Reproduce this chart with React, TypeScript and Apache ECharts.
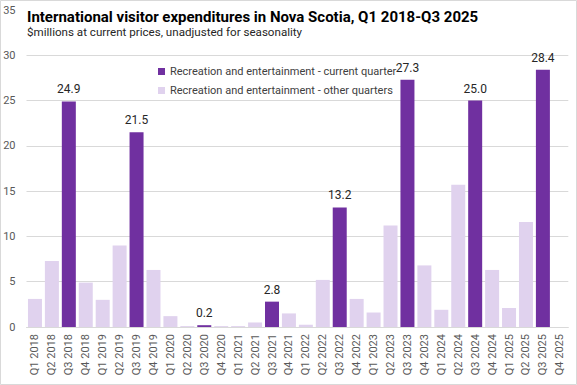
import React, { useEffect, useRef } from "react";
import * as echarts from "echarts";

const categories = [
  "Q1 2018","Q2 2018","Q3 2018","Q4 2018",
  "Q1 2019","Q2 2019","Q3 2019","Q4 2019",
  "Q1 2020","Q2 2020","Q3 2020","Q4 2020",
  "Q1 2021","Q2 2021","Q3 2021","Q4 2021",
  "Q1 2022","Q2 2022","Q3 2022","Q4 2022",
  "Q1 2023","Q2 2023","Q3 2023","Q4 2023",
  "Q1 2024","Q2 2024","Q3 2024","Q4 2024",
  "Q1 2025","Q2 2025","Q3 2025","Q4 2025",
];

const currentQuarter: (number | null)[] = [
  null, null, 24.9, null,
  null, null, 21.5, null,
  null, null, 0.2, null,
  null, null, 2.8, null,
  null, null, 13.2, null,
  null, null, 27.3, null,
  null, null, 25.0, null,
  null, null, 28.4, null,
];

const otherQuarters: (number | null)[] = [
  3.1, 7.3, null, 4.9,
  3.0, 9.0, null, 6.3,
  1.2, 0.1, null, 0.1,
  0.1, 0.5, null, 1.5,
  0.25, 5.2, null, 3.1,
  1.6, 11.2, null, 6.8,
  1.9, 15.7, null, 6.3,
  2.1, 11.6, null, null,
];

const seriesNames = [
  "Recreation and entertainment - current quarter",
  "Recreation and entertainment - other quarters",
];

const titleText = "International visitor expenditures in Nova Scotia, Q1 2018-Q3 2025";
const subtitleText = "$millions at current prices, unadjusted for seasonality";

const FONT = "Roboto, 'Liberation Sans', sans-serif";

export default function App() {
  const ref = useRef<HTMLDivElement>(null);
  useEffect(() => {
    document.body.style.margin = "0";
    const chart = echarts.init(ref.current!, null, { renderer: "svg" });
    chart.setOption({
      animation: false,
      backgroundColor: "#ffffff",
      textStyle: { fontFamily: FONT },
      grid: { left: 26.5, right: 8.7, top: 10, bottom: 58, containLabel: false },
      legend: {
        orient: "vertical",
        left: 153,
        top: 61,
        itemWidth: 7,
        itemHeight: 7,
        itemGap: 8,
        icon: "rect",
        textStyle: { fontSize: 11, color: "#404040", fontFamily: FONT },
        data: seriesNames,
      },
      xAxis: {
        type: "category",
        data: categories,
        axisLine: { show: true, lineStyle: { color: "#d9d9d9" } },
        axisTick: { show: false },
        axisLabel: {
          rotate: 90,
          interval: 0,
          color: "#595959",
          fontSize: 11,
          margin: 7,
          fontFamily: FONT,
        },
      },
      yAxis: {
        type: "value",
        min: 0,
        max: 35,
        interval: 5,
        axisLine: { show: false },
        axisTick: { show: false },
        axisLabel: { color: "#595959", fontSize: 11, margin: 11, fontFamily: FONT },
        splitLine: { lineStyle: { color: "#d9d9d9", width: 1 } },
      },
      series: [
        {
          name: seriesNames[0],
          type: "bar",
          data: currentQuarter,
          barWidth: 14,
          barGap: "-100%",
          itemStyle: { color: "#7030A0" },
          label: {
            show: true,
            position: "top",
            distance: 6,
            color: "#262626",
            fontSize: 12,
            fontFamily: FONT,
            formatter: (p: any) => (p.value == null ? "" : Number(p.value).toFixed(1)),
          },
        },
        {
          name: seriesNames[1],
          type: "bar",
          data: otherQuarters,
          barWidth: 14,
          barGap: "-100%",
          itemStyle: { color: "#E0D2EE" },
        },
      ],
      graphic: [
        {
          type: "rect",
          z: 100,
          shape: { x: 24, y: 2, width: 550, height: 42 },
          style: { fill: "#ffffff" },
        },
        {
          type: "text",
          z: 101,
          left: 27,
          top: 9,
          style: {
            text: titleText,
            fontSize: 15,
            fontWeight: "bold",
            fill: "#000000",
            fontFamily: FONT,
          },
        },
        {
          type: "text",
          z: 101,
          left: 27,
          top: 26,
          style: {
            text: subtitleText,
            fontSize: 11.6,
            fill: "#262626",
            fontFamily: FONT,
          },
        },
        {
          type: "rect",
          z: 102,
          shape: { x: 0.5, y: 0.5, width: 576, height: 384 },
          style: { fill: "none", stroke: "#d9d9d9", lineWidth: 1 },
        },
      ],
    });
    return () => chart.dispose();
  }, []);
  return (
    <div
      ref={ref}
      style={{ position: "absolute", left: 0, top: 0, width: 577, height: 385 }}
    />
  );
}
